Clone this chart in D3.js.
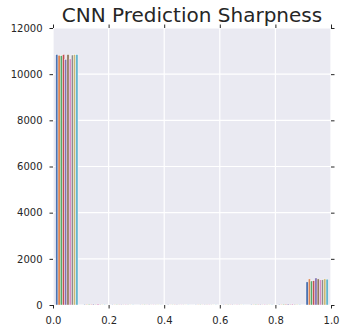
<!DOCTYPE html>
<html>
<head>
<meta charset="utf-8">
<script src="https://cdn.jsdelivr.net/npm/d3@7"></script>
<style>
  body { margin: 0; background: #fff; }
  text { font-family: "DejaVu Sans", sans-serif; fill: #262626; }
</style>
</head>
<body>
<div id="chart"></div>
<script>
// bin edges of the histogram (10 bins over [0, 1])
const binEdges = [0, 0.1, 0.2, 0.3, 0.4, 0.5, 0.6, 0.7, 0.8, 0.9, 1.0];

// counts per bin, one array per model (10 models)
const model0 = [10850, 30, 20, 15, 20, 15, 20, 25, 30, 1000];
const model1 = [10820, 25, 15, 15, 10, 15, 15, 20, 25, 1130];
const model2 = [10800, 30, 20, 20, 15, 20, 20, 25, 35, 1040];
const model3 = [10850, 25, 15, 10, 15, 10, 15, 20, 30, 1050];
const model4 = [10640, 40, 25, 20, 20, 20, 25, 30, 40, 1170];
const model5 = [10850, 20, 15, 10, 10, 15, 10, 15, 25, 1130];
const model6 = [10660, 45, 30, 25, 20, 25, 25, 35, 45, 1090];
const model7 = [10830, 25, 20, 15, 15, 15, 20, 20, 30, 1090];
const model8 = [10850, 20, 15, 15, 10, 10, 15, 20, 25, 1130];
const model9 = [10850, 25, 15, 15, 15, 15, 15, 20, 25, 1120];
const models = [model0, model1, model2, model3, model4, model5, model6, model7, model8, model9];

const xTicks = [0, 0.2, 0.4, 0.6, 0.8, 1.0];
const yTicks = [0, 2000, 4000, 6000, 8000, 10000, 12000];
const colors = ["#4c72b0", "#dd8452", "#55a868", "#c44e52", "#8172b3",
                "#937860", "#da8bc3", "#8c8c8c", "#ccb974", "#64b5cd"];

const width = 347, height = 333;
const margin = {top: 28, right: 16, bottom: 28, left: 53};
const innerW = width - margin.left - margin.right;
const innerH = height - margin.top - margin.bottom;

const svg = d3.select("#chart")
    .append("svg")
    .attr("width", width)
    .attr("height", height);

const g = svg.append("g")
    .attr("transform", `translate(${margin.left},${margin.top})`);

const x = d3.scaleLinear().domain([0, 1]).range([0, innerW]);
const y = d3.scaleLinear().domain([0, 12000]).range([innerH, 0]);

// background + grid
g.append("rect")
    .attr("width", innerW)
    .attr("height", innerH)
    .attr("fill", "#eaeaf2");

g.append("g")
    .selectAll("line")
    .data(xTicks)
    .enter().append("line")
    .attr("x1", d => x(d)).attr("x2", d => x(d))
    .attr("y1", 0).attr("y2", innerH)
    .attr("stroke", "#fff").attr("stroke-width", 1.2);

g.append("g")
    .selectAll("line")
    .data(yTicks)
    .enter().append("line")
    .attr("x1", 0).attr("x2", innerW)
    .attr("y1", d => y(d)).attr("y2", d => y(d))
    .attr("stroke", "#fff").attr("stroke-width", 1.2);

// bars: matplotlib style, 80% of the bin shared between the models, thin white edges
const nModels = models.length;
const barW = i => (x(binEdges[i + 1]) - x(binEdges[i])) * 0.8 / nModels;
models.forEach((counts, m) => {
    g.append("g")
        .attr("fill", colors[m])
        .attr("stroke", "#fff")
        .attr("stroke-width", 0.4)
        .selectAll("rect")
        .data(counts)
        .enter().append("rect")
        .attr("x", (d, i) => x(binEdges[i]) + (x(binEdges[i + 1]) - x(binEdges[i])) * 0.1 + m * barW(i))
        .attr("width", (d, i) => barW(i))
        .attr("y", d => y(d))
        .attr("height", d => innerH - y(d));
});

// axes with ticks on all four sides
const tickStyle = sel => {
    sel.select(".domain").remove();
    sel.selectAll(".tick line").attr("stroke", "#262626").attr("stroke-width", 1);
    sel.selectAll(".tick text").attr("font-size", "10px").attr("fill", "#262626");
};

g.append("g")
    .attr("transform", `translate(0,${innerH})`)
    .call(d3.axisBottom(x).tickValues(xTicks).tickFormat(d3.format(".1f")).tickSize(3.5).tickPadding(8))
    .call(tickStyle);

g.append("g")
    .call(d3.axisTop(x).tickValues(xTicks).tickFormat("").tickSize(3.5))
    .call(tickStyle);

g.append("g")
    .call(d3.axisLeft(y).tickValues(yTicks).tickFormat(d3.format("d")).tickSize(3.5).tickPadding(7))
    .call(tickStyle);

g.append("g")
    .attr("transform", `translate(${innerW},0)`)
    .call(d3.axisRight(y).tickValues(yTicks).tickFormat("").tickSize(3.5))
    .call(tickStyle);

// title
svg.append("text")
    .attr("x", margin.left + innerW / 2)
    .attr("y", 22)
    .attr("text-anchor", "middle")
    .attr("font-size", "20px")
    .text("CNN Prediction Sharpness");
</script>
</body>
</html>
